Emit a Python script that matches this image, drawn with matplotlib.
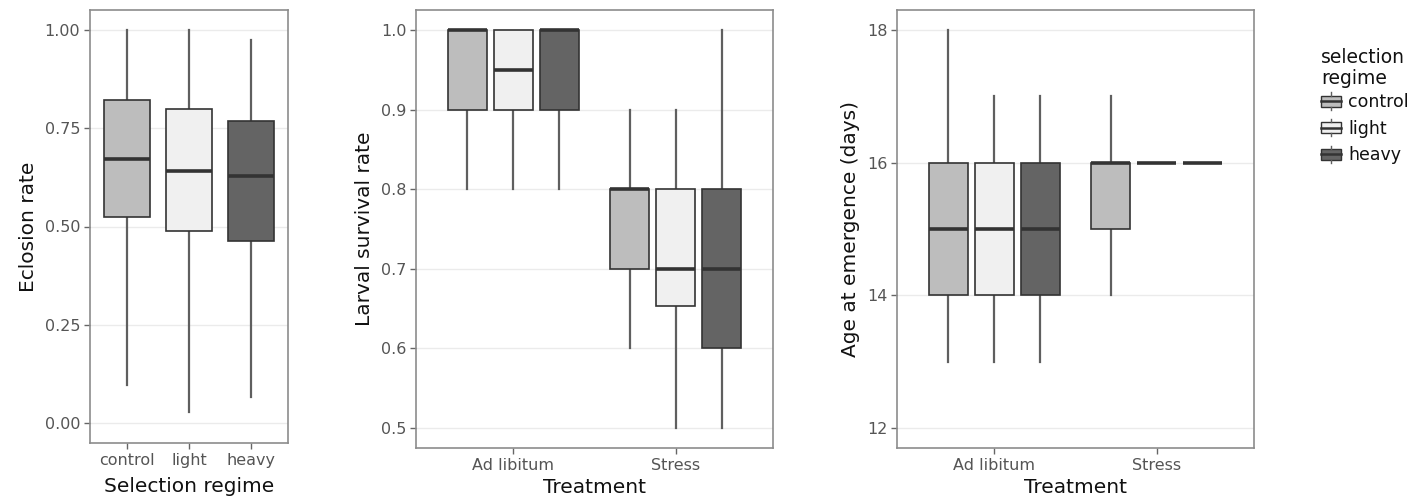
import matplotlib
matplotlib.use("Agg")
import matplotlib.pyplot as plt
from matplotlib.patches import Patch, Rectangle
from matplotlib.lines import Line2D
from matplotlib.legend_handler import HandlerBase

plt.rcParams['font.family'] = ['DejaVu Sans']

regimes = ['control', 'light', 'heavy']
treatments = ['Ad libitum', 'Stress']
fills = ['#bdbdbd', '#f0f0f0', '#646464']

# eclosion rate per selection regime: low whisker, q1, median, q3, high whisker
eclosion_low = [0.097, 0.029, 0.067]
eclosion_q1 = [0.525, 0.489, 0.463]
eclosion_med = [0.671, 0.642, 0.628]
eclosion_q3 = [0.821, 0.799, 0.767]
eclosion_high = [1.00, 1.00, 0.973]

# larval survival, rows = treatment, cols = regime
survival_low = [[0.8, 0.8, 0.8], [0.6, 0.5, 0.5]]
survival_q1 = [[0.9, 0.9, 0.9], [0.7, 0.653, 0.6]]
survival_med = [[1.0, 0.95, 1.0], [0.8, 0.7, 0.7]]
survival_q3 = [[1.0, 1.0, 1.0], [0.8, 0.8, 0.8]]
survival_high = [[1.0, 1.0, 1.0], [0.9, 0.9, 1.0]]

# age at emergence (days)
age_low = [[13, 13, 13], [14, 16, 16]]
age_q1 = [[14, 14, 14], [15, 16, 16]]
age_med = [[15, 15, 15], [16, 16, 16]]
age_q3 = [[16, 16, 16], [16, 16, 16]]
age_high = [[18, 17, 17], [17, 16, 16]]

EDGE = '#333333'
WHISK = '#5f5f5f'
GRID = '#ebebeb'
TICKC = '#555555'


def box_stats(lo, q1, med, q3, hi):
    return dict(whislo=lo, q1=q1, med=med, q3=q3, whishi=hi, fliers=[])


def draw_boxes(ax, stats, positions, width, colors):
    res = ax.bxp(stats, positions=positions, widths=width, patch_artist=True,
                 showcaps=False, showfliers=False, manage_ticks=False,
                 boxprops=dict(edgecolor=EDGE, linewidth=1.2),
                 medianprops=dict(color=EDGE, linewidth=2.6, solid_capstyle='butt'),
                 whiskerprops=dict(color=WHISK, linewidth=1.6))
    for patch, c in zip(res['boxes'], colors):
        patch.set_facecolor(c)
    for w in res['whiskers']:
        w.set_zorder(1)


def style_axes(ax, yticks, ylim, xlim, ylabel, xlabel, fmt, xpad):
    ax.set_ylim(*ylim)
    ax.set_xlim(*xlim)
    ax.set_yticks(yticks)
    ax.set_yticklabels([fmt.format(v) for v in yticks])
    for v in yticks:
        ax.axhline(v, color=GRID, lw=1.0, zorder=0)
    for s in ax.spines.values():
        s.set_color('#8c8c8c')
        s.set_linewidth(1.2)
    ax.tick_params(axis='both', colors='#666666', labelcolor=TICKC,
                   labelsize=11.5, length=4, width=1.0, pad=3)
    ax.set_ylabel(ylabel, fontsize=14.5, color='#111111', labelpad=5)
    ax.set_xlabel(xlabel, fontsize=14.5, color='#111111', labelpad=xpad)


fig = plt.figure(figsize=(14.2, 5.0), dpi=100)

# eclosion by regime
ax1 = fig.add_axes([90 / 1420, 1 - 443 / 500, 198 / 1420, 433 / 500])
stats1 = [box_stats(eclosion_low[i], eclosion_q1[i], eclosion_med[i],
                    eclosion_q3[i], eclosion_high[i]) for i in range(3)]
draw_boxes(ax1, stats1, [1, 2, 3], 0.75, fills)
ax1.set_xticks([1, 2, 3])
ax1.set_xticklabels(regimes)
style_axes(ax1, [0.0, 0.25, 0.5, 0.75, 1.0], (-0.05, 1.05), (0.4, 3.6),
           'Eclosion rate', 'Selection regime', '{:.2f}', 6.5)

dodge = 0.284
bw = 0.24


def grouped(ax, lo, q1, med, q3, hi):
    for t in range(2):
        stats = [box_stats(lo[t][i], q1[t][i], med[t][i], q3[t][i], hi[t][i])
                 for i in range(3)]
        pos = [t + 1 + (i - 1) * dodge for i in range(3)]
        draw_boxes(ax, stats, pos, bw, fills)
    ax.set_xticks([1, 2])
    ax.set_xticklabels(treatments)


ax2 = fig.add_axes([416 / 1420, 1 - 448 / 500, 357 / 1420, 438 / 500])
grouped(ax2, survival_low, survival_q1, survival_med, survival_q3, survival_high)
style_axes(ax2, [0.5, 0.6, 0.7, 0.8, 0.9, 1.0], (0.475, 1.025), (0.4, 2.6),
           'Larval survival rate', 'Treatment', '{:.1f}', 3.5)

ax3 = fig.add_axes([897 / 1420, 1 - 448 / 500, 357 / 1420, 438 / 500])
grouped(ax3, age_low, age_q1, age_med, age_q3, age_high)
style_axes(ax3, [12, 14, 16, 18], (11.7, 18.3), (0.4, 2.6),
           'Age at emergence (days)', 'Treatment', '{:d}', 3.5)


class BoxKey(HandlerBase):
    def create_artists(self, legend, orig_handle, xdescent, ydescent,
                       width, height, fontsize, trans):
        x0, y0 = -xdescent, -ydescent
        fc = orig_handle.get_facecolor()
        rect = Rectangle((x0, y0 + 0.14 * height), width, 0.72 * height,
                         facecolor=fc, edgecolor=EDGE, lw=1.0, transform=trans)
        med = Line2D([x0, x0 + width], [y0 + 0.5 * height] * 2, color=EDGE,
                     lw=1.8, transform=trans)
        w1 = Line2D([x0 + width / 2] * 2, [y0 - 0.06 * height, y0 + 0.14 * height],
                    color=WHISK, lw=1.0, transform=trans)
        w2 = Line2D([x0 + width / 2] * 2, [y0 + 0.86 * height, y0 + 1.06 * height],
                    color=WHISK, lw=1.0, transform=trans)
        return [rect, med, w1, w2]


handles = [Patch(facecolor=c, label=r) for c, r in zip(fills, regimes)]
leg = fig.legend(handles=handles, title='selection\nregime', loc='upper left',
                 bbox_to_anchor=(1321 / 1420, 1 - 48 / 500), frameon=False,
                 fontsize=12.5, title_fontsize=13.5, handlelength=1.15,
                 handleheight=1.0, handletextpad=0.4, labelspacing=0.5,
                 borderaxespad=0, borderpad=0, handler_map={Patch: BoxKey()})
leg._legend_box.align = 'left'
leg._legend_box.sep = 4
leg.get_title().set_color('#111111')
leg.get_title().set_linespacing(1.1)
for t in leg.get_texts():
    t.set_color('#111111')

fig.savefig('out.png', dpi=100)
